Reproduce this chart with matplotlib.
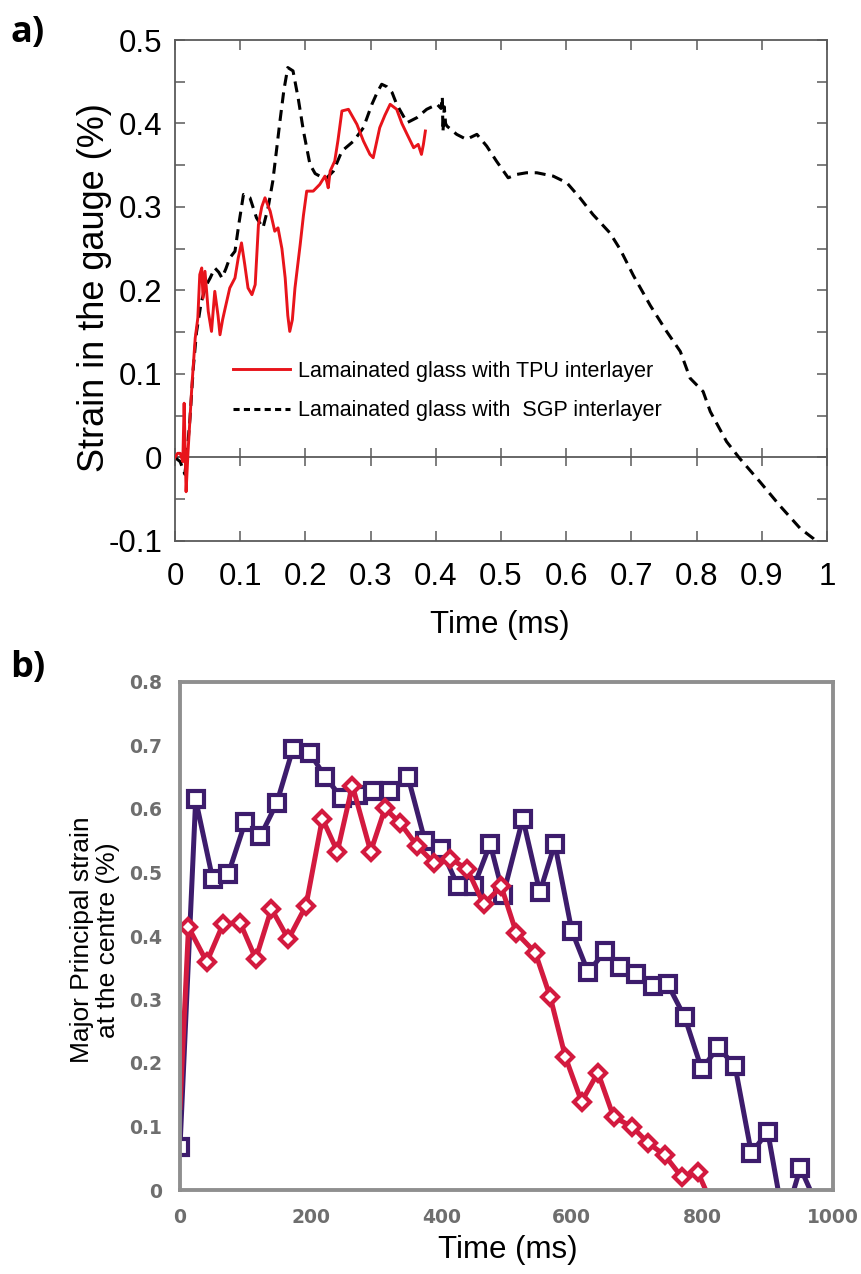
import matplotlib
matplotlib.use("Agg")
import matplotlib.pyplot as plt
from matplotlib.lines import Line2D
import numpy as np

plt.rcParams["font.family"] = ["Liberation Sans", "DejaVu Sans"]

# ---------------- (a) strain gauge records, time in ms ----------------
sgp_time = [0.000, 0.008, 0.015, 0.018, 0.023, 0.028, 0.033, 0.040, 0.047, 0.054,
            0.061, 0.067, 0.072, 0.078, 0.084, 0.092, 0.098, 0.105, 0.115, 0.125,
            0.135, 0.143, 0.150, 0.156, 0.161, 0.167, 0.173, 0.181, 0.189, 0.197,
            0.207, 0.215, 0.222, 0.233, 0.243, 0.256, 0.274, 0.289, 0.302, 0.310,
            0.317, 0.325, 0.333, 0.340, 0.356, 0.371, 0.386, 0.402, 0.408, 0.410,
            0.411, 0.413, 0.415, 0.417, 0.432, 0.447, 0.463, 0.478, 0.493, 0.511,
            0.524, 0.539, 0.555, 0.580, 0.601, 0.621, 0.641, 0.667, 0.683, 0.703,
            0.729, 0.754, 0.775, 0.790, 0.810, 0.821, 0.846, 0.866, 0.897, 0.928,
            0.959, 0.979, 0.985]
sgp_strain = [0.000, -0.005, -0.020, 0.000, 0.047, 0.107, 0.150, 0.185, 0.205, 0.215,
              0.227, 0.222, 0.215, 0.226, 0.239, 0.247, 0.280, 0.315, 0.311, 0.287,
              0.275, 0.300, 0.331, 0.370, 0.403, 0.440, 0.467, 0.463, 0.430, 0.391,
              0.351, 0.340, 0.337, 0.335, 0.343, 0.367, 0.379, 0.395, 0.423, 0.437,
              0.447, 0.444, 0.437, 0.423, 0.401, 0.407, 0.417, 0.423, 0.418, 0.432,
              0.390, 0.420, 0.400, 0.397, 0.387, 0.381, 0.387, 0.373, 0.355, 0.335,
              0.339, 0.341, 0.341, 0.337, 0.329, 0.311, 0.291, 0.269, 0.249, 0.218,
              0.182, 0.151, 0.127, 0.095, 0.079, 0.055, 0.019, -0.001, -0.029, -0.058,
              -0.085, -0.097, -0.102]

tpu_time = [0.000, 0.004, 0.008, 0.012, 0.014, 0.017, 0.020, 0.026, 0.031, 0.035,
            0.038, 0.041, 0.043, 0.046, 0.051, 0.056, 0.061, 0.066, 0.069, 0.073,
            0.077, 0.084, 0.092, 0.097, 0.102, 0.107, 0.112, 0.118, 0.123, 0.128,
            0.133, 0.138, 0.146, 0.153, 0.158, 0.164, 0.169, 0.173, 0.176, 0.180,
            0.184, 0.192, 0.197, 0.202, 0.212, 0.222, 0.230, 0.233, 0.235, 0.238,
            0.245, 0.250, 0.256, 0.266, 0.279, 0.289, 0.299, 0.304, 0.314, 0.322,
            0.330, 0.340, 0.348, 0.356, 0.366, 0.373, 0.378, 0.381, 0.384]
tpu_strain = [0.000, 0.005, 0.005, -0.005, 0.065, -0.041, 0.007, 0.087, 0.143, 0.167,
              0.219, 0.227, 0.191, 0.223, 0.175, 0.151, 0.199, 0.170, 0.147, 0.165,
              0.179, 0.203, 0.215, 0.239, 0.257, 0.231, 0.203, 0.195, 0.207, 0.279,
              0.300, 0.311, 0.295, 0.271, 0.275, 0.250, 0.215, 0.170, 0.151, 0.165,
              0.203, 0.255, 0.290, 0.319, 0.319, 0.327, 0.337, 0.330, 0.323, 0.343,
              0.355, 0.380, 0.415, 0.417, 0.399, 0.379, 0.363, 0.359, 0.395, 0.410,
              0.423, 0.417, 0.400, 0.387, 0.371, 0.375, 0.363, 0.375, 0.391]

a_xticks = [0, 0.1, 0.2, 0.3, 0.4, 0.5, 0.6, 0.7, 0.8, 0.9, 1.0]
a_xticklabels = ["0", "0.1", "0.2", "0.3", "0.4", "0.5", "0.6", "0.7", "0.8", "0.9", "1"]
a_yticks = [-0.1, 0, 0.1, 0.2, 0.3, 0.4, 0.5]
a_yticklabels = ["-0.1", "0", "0.1", "0.2", "0.3", "0.4", "0.5"]
a_legend = ["Lamainated glass with TPU interlayer",
            "Lamainated glass with  SGP interlayer"]

# ---------------- (b) major principal strain at the centre, time in ms ----------------
square_time = [0, 24, 50, 74, 100, 123, 148, 173, 199, 222, 248, 272, 296, 322, 349,
               375, 400, 426, 450, 475, 495, 525, 551, 574, 600, 625, 651, 674, 699,
               724, 747, 773, 799, 824, 850, 875, 900, 925, 950, 975]
square_strain = [0.068, 0.615, 0.490, 0.498, 0.580, 0.557, 0.609, 0.695, 0.688, 0.651,
                 0.617, 0.622, 0.628, 0.628, 0.651, 0.550, 0.537, 0.478, 0.478, 0.545,
                 0.465, 0.585, 0.469, 0.545, 0.408, 0.343, 0.376, 0.351, 0.340, 0.322,
                 0.324, 0.272, 0.190, 0.225, 0.195, 0.058, 0.092, -0.052, 0.035, -0.023]

diamond_time = [0, 13, 41, 66, 92, 116, 140, 166, 193, 218, 241, 264, 292, 314, 337,
                363, 389, 414, 440, 465, 492, 515, 544, 567, 590, 615, 640, 664, 692,
                717, 742, 768, 793, 818]
diamond_strain = [0.130, 0.414, 0.359, 0.419, 0.421, 0.364, 0.443, 0.395, 0.448, 0.585,
                  0.533, 0.637, 0.533, 0.601, 0.578, 0.542, 0.515, 0.522, 0.505, 0.450,
                  0.478, 0.405, 0.374, 0.304, 0.210, 0.139, 0.185, 0.115, 0.100, 0.074,
                  0.055, 0.021, 0.028, -0.030]

b_xticks = [0, 200, 400, 600, 800, 1000]
b_yticks = [0, 0.1, 0.2, 0.3, 0.4, 0.5, 0.6, 0.7, 0.8]
b_yticklabels = ["0", "0.1", "0.2", "0.3", "0.4", "0.5", "0.6", "0.7", "0.8"]

W, H = 861, 1274
fig = plt.figure(figsize=(W / 100, H / 100), dpi=100)


def fx(px):
    return px / W


def fy(py):
    return 1 - py / H


# ---------------- panel (a) ----------------
frame_a = "#5a5a5a"
ax1 = fig.add_axes([fx(175), fy(541), fx(827) - fx(175), fy(40) - fy(541)])
ax1.plot(tpu_time, tpu_strain, color="#e8141b", lw=2.1, zorder=3)
ax1.plot(sgp_time, sgp_strain, color="black", lw=2.2,
         linestyle=(0, (3.6, 2.2)), zorder=2)
ax1.set_xlim(0, 1)
ax1.set_ylim(-0.1, 0.5)
ax1.set_xticks(a_xticks)
ax1.set_xticklabels(a_xticklabels)
ax1.set_yticks(a_yticks)
ax1.set_yticklabels(a_yticklabels)
ax1.set_yticks(np.arange(-0.05, 0.5, 0.1), minor=True)
ax1.tick_params(which="both", direction="in", length=7, width=1.1, color=frame_a,
                top=True, right=True, labelsize=22.5)
ax1.tick_params(axis="x", pad=15)
ax1.tick_params(axis="y", pad=9)
for sp in ax1.spines.values():
    sp.set_color(frame_a)
    sp.set_linewidth(1.3)

# zero line carrying its own ticks
zero_axis = ax1.secondary_xaxis(1 / 6)
zero_axis.set_xticks(a_xticks)
zero_axis.set_xticklabels([])
zero_axis.tick_params(direction="inout", length=13, width=1.1, color=frame_a)
zero_axis.spines["bottom"].set_color(frame_a)
zero_axis.spines["bottom"].set_linewidth(1.3)

handles = [Line2D([], [], color="#e8141b", lw=2.1),
           Line2D([], [], color="black", lw=2.2, linestyle=(0, (2.0, 1.4)))]
ax1.legend(handles, a_legend, loc="upper left",
           bbox_to_anchor=(fx(233), fy(361)), bbox_transform=fig.transFigure,
           frameon=False, fontsize=15.5, handlelength=2.65, handletextpad=0.37,
           labelspacing=0.84, borderpad=0, borderaxespad=0)

fig.text(fx(95), fy(288), "Strain in the gauge (%)", rotation=90,
         ha="center", va="center", fontsize=26)
fig.text(fx(500), fy(625), "Time (ms)", ha="center", va="center", fontsize=22.5)
fig.text(fx(10), fy(33), "a)", ha="left", va="center", fontsize=26,
         fontweight="bold", family=["Open Sans", "DejaVu Sans"])

# ---------------- panel (b) ----------------
purple = "#3d1c6c"
crimson = "#d31a3f"
frame_b = "#8f8f8f"
ax2 = fig.add_axes([fx(180), fy(1190), fx(833) - fx(180), fy(682) - fy(1190)])
ax2.plot(square_time, square_strain, color=purple, lw=3.6, marker="s", ms=11.5,
         mfc="white", mec=purple, mew=3.0, zorder=3)
ax2.plot(diamond_time, diamond_strain, color=crimson, lw=3.6, marker="D", ms=8.6,
         mfc="white", mec=crimson, mew=3.0, markevery=list(range(1, len(diamond_time))),
         zorder=4)
ax2.set_xlim(0, 1000)
ax2.set_ylim(0, 0.8)
ax2.set_xticks(b_xticks)
ax2.set_yticks(b_yticks)
ax2.set_yticklabels(b_yticklabels)
ax2.tick_params(length=0, labelsize=13.5, labelcolor="#6e6e6e", pad=13)
for lab in ax2.get_xticklabels() + ax2.get_yticklabels():
    lab.set_fontweight("bold")
    lab.set_family(["DejaVu Sans"])
for sp in ax2.spines.values():
    sp.set_color(frame_b)
    sp.set_linewidth(2.8)
    sp.set_zorder(5)

fig.text(fx(95), fy(940), "Major Principal strain\nat the centre (%)", rotation=90,
         ha="center", va="center", fontsize=19, linespacing=1.1)
fig.text(fx(508), fy(1250), "Time (ms)", ha="center", va="center", fontsize=22.5)
fig.text(fx(10), fy(668), "b)", ha="left", va="center", fontsize=26,
         fontweight="bold", family=["Open Sans", "DejaVu Sans"])

fig.savefig("out.png", dpi=100)
